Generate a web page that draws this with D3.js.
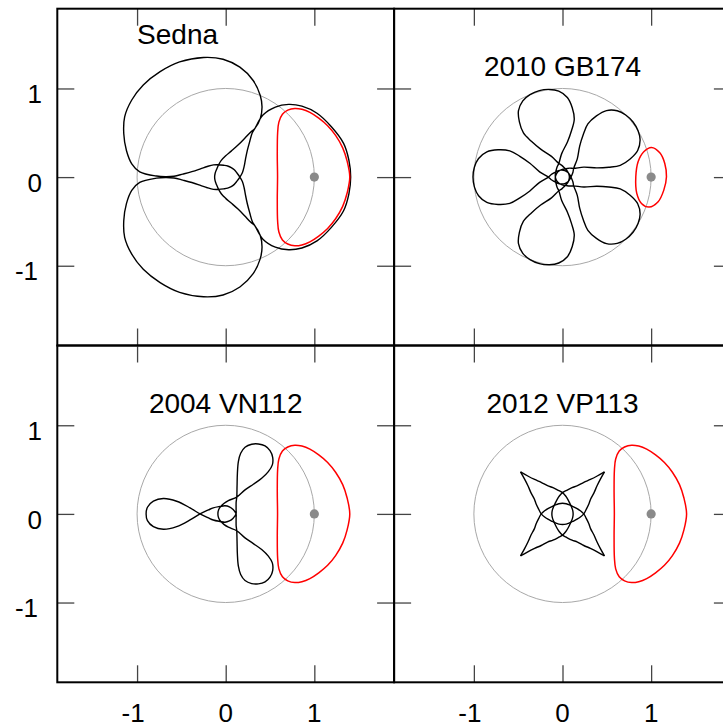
<!DOCTYPE html>
<html><head><meta charset="utf-8">
<script src="https://cdn.jsdelivr.net/npm/d3@7"></script>
<style>html,body{margin:0;padding:0;background:#fff;} svg{display:block;}</style>
</head><body>
<svg id="chart" width="723" height="728"></svg>
<script>
// ---------------- DATA ----------------
const titles = ["Sedna", "2010 GB174", "2004 VN112", "2012 VP113"];
const tickValues = [-1, 0, 1];
const tickLabels = ["-1", "0", "1"];
const planet = [1, 0];

// Sedna (x, y)
const sednaRightLobe = [[0.33,0.55],[0.42,0.70],[0.56,0.79],[0.71,0.82],[0.86,0.80],[1.03,0.72],[1.19,0.57],[1.33,0.38],[1.39,0.19],[1.41,0.0],[1.39,-0.19],[1.33,-0.38],[1.19,-0.57],[1.03,-0.72],[0.86,-0.80],[0.71,-0.82],[0.56,-0.79],[0.42,-0.70]];
const sednaArc1 = [[0.33,-0.55],[0.300,-0.500],[0.271,-0.402],[0.244,-0.301],[0.223,-0.201],[0.208,-0.12],[0.188,-0.050],[0.16,0.0],[0.127,0.046],[0.097,0.082],[0.0625,0.108],[0.022,0.125],[-0.023,0.133],[-0.08,0.139],[-0.138,0.138],[-0.208,0.12],[-0.285,0.093],[-0.382,0.061],[-0.484,0.034],[-0.583,0.010]];
const sednaUpperLobe = [[-0.68,0.005],[-0.78,0.012],[-0.97,0.06],[-1.06,0.15],[-1.12,0.30],[-1.15,0.49],[-1.14,0.68],[-1.06,0.87],[-0.93,1.04],[-0.74,1.19],[-0.52,1.30],[-0.25,1.35],[-0.03,1.33],[0.16,1.24],[0.31,1.09],[0.39,0.92],[0.41,0.79],[0.39,0.66]];
const sednaArc2 = [[0.33,0.55],[0.283,0.510],[0.213,0.436],[0.139,0.361],[0.062,0.293],[0.0,0.24],[-0.05,0.188],[-0.08,0.139],[-0.103,0.087],[-0.119,0.043],[-0.125,0.0],[-0.119,-0.043],[-0.103,-0.087],[-0.08,-0.139],[-0.05,-0.188],[0.0,-0.24],[0.062,-0.293],[0.139,-0.361],[0.213,-0.436],[0.283,-0.510]];
const sednaLowerLobe = [[0.33,-0.55],[0.39,-0.66],[0.41,-0.79],[0.39,-0.92],[0.31,-1.09],[0.16,-1.24],[-0.03,-1.33],[-0.25,-1.35],[-0.52,-1.30],[-0.74,-1.19],[-0.93,-1.04],[-1.06,-0.87],[-1.14,-0.68],[-1.15,-0.49],[-1.12,-0.30],[-1.06,-0.15],[-0.97,-0.06],[-0.78,-0.012]];
const sednaArc3 = [[-0.68,-0.005],[-0.583,-0.010],[-0.484,-0.034],[-0.382,-0.061],[-0.285,-0.093],[-0.208,-0.12],[-0.138,-0.138],[-0.08,-0.139],[-0.023,-0.133],[0.022,-0.125],[0.0625,-0.108],[0.097,-0.082],[0.127,-0.046],[0.16,0.0],[0.188,0.050],[0.208,0.12],[0.223,0.201],[0.244,0.301],[0.271,0.402],[0.300,0.500]];

// red D-shaped curve (x, y), shared by Sedna, 2004 VN112, 2012 VP113
const redD = [[0.585,0.0],[0.582,0.25],[0.586,0.50],[0.60,0.62],[0.64,0.71],[0.70,0.755],[0.78,0.775],[0.86,0.765],[0.95,0.73],[1.05,0.665],[1.15,0.58],[1.24,0.47],[1.32,0.33],[1.37,0.18],[1.40,0.0],[1.37,-0.18],[1.32,-0.33],[1.24,-0.47],[1.15,-0.58],[1.05,-0.665],[0.95,-0.73],[0.86,-0.765],[0.78,-0.775],[0.70,-0.755],[0.64,-0.71],[0.60,-0.62],[0.586,-0.50],[0.582,-0.25]];
// red ellipse of 2010 GB174 (x, y)
const gbRed = [[1.004,0.335],[1.098,0.274],[1.154,0.154],[1.173,0.004],[1.143,-0.147],[1.079,-0.278],[0.977,-0.338],[0.891,-0.297],[0.838,-0.184],[0.827,0.004],[0.853,0.173],[0.917,0.286]];

// 2010 GB174 (angle in degrees, radius)
const gbPetal38 = [[38,0.16],[51,0.265],[61,0.40],[64,0.535],[64.5,0.665],[61,0.79],[56.5,0.90],[50.5,0.97],[44.5,1.0],[38,1.01],[31.5,1.0],[25.5,0.97],[19.5,0.90],[15,0.79],[11.5,0.665],[12,0.535],[15,0.40],[25,0.265]];
const gbArc38 = [[38,0.16],[51,0.13],[66,0.105],[86,0.09],[116,0.08],[146.5,0.078],[177,0.08],[207,0.09],[227,0.105],[242,0.13]];
const gbPetal255 = [[255,0.16],[268,0.265],[278,0.40],[281,0.535],[281.5,0.665],[278,0.79],[273.5,0.90],[267.5,0.97],[261.5,1.0],[255,1.01],[248.5,1.0],[242.5,0.97],[236.5,0.90],[232,0.79],[228.5,0.665],[229,0.535],[232,0.40],[242,0.265]];
const gbArc255 = [[255,0.16],[268,0.13],[283,0.105],[303,0.09],[330,0.08],[360,0.078],[390,0.08],[417,0.09],[437,0.105],[452,0.13]];
const gbPetal465 = [[465,0.16],[478,0.265],[488,0.40],[491,0.535],[491.5,0.665],[488,0.79],[483.5,0.90],[477.5,0.97],[471.5,1.0],[465,1.01],[458.5,1.0],[452.5,0.97],[446.5,0.90],[442,0.79],[438.5,0.665],[439,0.535],[442,0.40],[452,0.265]];
const gbArc465 = [[465,0.16],[478,0.13],[493,0.105],[513,0.09],[543,0.08],[573.5,0.078],[604,0.08],[634,0.09],[654,0.105],[669,0.13]];
const gbPetal682 = [[682,0.16],[695,0.265],[705,0.40],[708,0.535],[708.5,0.665],[705,0.79],[700.5,0.90],[694.5,0.97],[688.5,1.0],[682,1.01],[675.5,1.0],[669.5,0.97],[663.5,0.90],[659,0.79],[655.5,0.665],[656,0.535],[659,0.40],[669,0.265]];
const gbArc682 = [[682,0.16],[695,0.13],[710,0.105],[730,0.09],[760,0.08],[791,0.078],[822,0.08],[852,0.09],[872,0.105],[887,0.13]];
const gbPetal900 = [[900,0.16],[913,0.265],[923,0.40],[926,0.535],[926.5,0.665],[923,0.79],[918.5,0.90],[912.5,0.97],[906.5,1.0],[900,1.01],[893.5,1.0],[887.5,0.97],[881.5,0.90],[877,0.79],[873.5,0.665],[874,0.535],[877,0.40],[887,0.265]];
const gbArc900 = [[900,0.16],[913,0.13],[928,0.105],[948,0.09],[978,0.08],[1009,0.078],[1040,0.08],[1070,0.09],[1090,0.105],[1105,0.13]];

// 2004 VN112: petals (x, y), inner arcs (angle in degrees, radius)
const vnPetalUR = [[0.125,0.19],[0.128,0.308],[0.132,0.459],[0.143,0.59],[0.169,0.684],[0.218,0.752],[0.293,0.786],[0.368,0.789],[0.444,0.767],[0.50,0.714],[0.53,0.639],[0.526,0.553],[0.481,0.477],[0.406,0.402],[0.312,0.335],[0.218,0.271]];
const vnArcURtoLR = [[56.7,0.227],[78.7,0.153],[100,0.12],[125,0.10],[150,0.092],[180,0.088],[210,0.092],[235,0.10],[260,0.12],[281.3,0.153]];
const vnPetalLR = [[0.125,-0.19],[0.218,-0.271],[0.312,-0.335],[0.406,-0.402],[0.481,-0.477],[0.526,-0.553],[0.53,-0.639],[0.50,-0.714],[0.444,-0.767],[0.368,-0.789],[0.293,-0.786],[0.218,-0.752],[0.169,-0.684],[0.143,-0.59],[0.132,-0.459],[0.128,-0.308]];
const vnArcLRtoL = [[303.3,0.227],[311,0.18],[320,0.153],[340,0.125],[360,0.117],[390,0.097],[422.5,0.09],[455,0.092],[487,0.105],[514,0.156],[527,0.20]];
const vnPetalL = [[-0.29,0.0],[-0.402,-0.068],[-0.553,-0.143],[-0.703,-0.173],[-0.816,-0.143],[-0.883,-0.075],[-0.898,0.0],[-0.883,0.075],[-0.816,0.143],[-0.703,0.173],[-0.553,0.143],[-0.402,0.068]];
const vnArcLtoUR = [[180,0.29],[193,0.20],[206,0.156],[233,0.107],[265,0.095],[297.5,0.09],[330,0.097],[360,0.117],[380,0.125],[400,0.153],[409,0.18]];

// 2012 VP113 (angle in degrees, radius), four cusp-to-cusp arcs
const vpArcA = [[45,0.67],[47.5,0.58],[51,0.50],[56,0.43],[62,0.36],[70,0.315],[80,0.27],[90,0.24],[100,0.205],[110,0.175],[125,0.145],[140,0.13],[160,0.122],[180,0.12],[200,0.122],[220,0.13],[235,0.145],[250,0.175],[260,0.205],[270,0.24],[280,0.27],[290,0.315],[298,0.36],[304,0.43],[309,0.50],[312.5,0.58],[315,0.67]];
const vpArcB = [[315,0.67],[317.5,0.58],[321,0.50],[326,0.43],[332,0.36],[340,0.315],[350,0.27],[360,0.24],[370,0.205],[380,0.175],[395,0.145],[410,0.13],[430,0.122],[450,0.12],[470,0.122],[490,0.13],[505,0.145],[520,0.175],[530,0.205],[540,0.24],[550,0.27],[560,0.315],[568,0.36],[574,0.43],[579,0.50],[582.5,0.58],[585,0.67]];
const vpArcC = [[225,0.67],[227.5,0.58],[231,0.50],[236,0.43],[242,0.36],[250,0.315],[260,0.27],[270,0.24],[280,0.205],[290,0.175],[305,0.145],[320,0.13],[340,0.122],[360,0.12],[380,0.122],[400,0.13],[415,0.145],[430,0.175],[440,0.205],[450,0.24],[460,0.27],[470,0.315],[478,0.36],[484,0.43],[489,0.50],[492.5,0.58],[495,0.67]];
const vpArcD = [[135,0.67],[137.5,0.58],[141,0.50],[146,0.43],[152,0.36],[160,0.315],[170,0.27],[180,0.24],[190,0.205],[200,0.175],[215,0.145],[230,0.13],[250,0.122],[270,0.12],[290,0.122],[310,0.13],[325,0.145],[340,0.175],[350,0.205],[360,0.24],[370,0.27],[380,0.315],[388,0.36],[394,0.43],[399,0.50],[402.5,0.58],[405,0.67]];

// ---------------- DRAWING ----------------
const svg = d3.select("#chart");
const LEFT = 57.3, TOP = 8.7, SIZE = 336.8, DOM = [-1.9, 1.9], TICK = 17;
const FONT = "'Liberation Sans', Arial, Helvetica, sans-serif";
const toXY = p => { const a = p[0] * Math.PI / 180; return [p[1] * Math.cos(a), p[1] * Math.sin(a)]; };
const pol = arr => arr.map(toXY);

const panels = [
  {col:0, row:0, title:titles[0], tx:-1.0, ty:1.5, anchor:"start",
   black:[{pts:[...sednaRightLobe, ...sednaArc1, ...sednaUpperLobe, ...sednaArc2, ...sednaLowerLobe, ...sednaArc3], closed:true}],
   red:redD},
  {col:1, row:0, title:titles[1], tx:0, ty:1.14, anchor:"middle",
   black:[{pts:[...pol(gbPetal38), ...pol(gbArc38), ...pol(gbPetal255), ...pol(gbArc255), ...pol(gbPetal465), ...pol(gbArc465), ...pol(gbPetal682), ...pol(gbArc682), ...pol(gbPetal900), ...pol(gbArc900)], closed:true}],
   red:gbRed},
  {col:0, row:1, title:titles[2], tx:0, ty:1.14, anchor:"middle",
   black:[{pts:[...vnPetalUR, ...pol(vnArcURtoLR), ...vnPetalLR, ...pol(vnArcLRtoL), ...vnPetalL, ...pol(vnArcLtoUR)], closed:true}],
   red:redD},
  {col:1, row:1, title:titles[3], tx:0, ty:1.14, anchor:"middle",
   black:[vpArcA, vpArcB, vpArcC, vpArcD].map(a => ({pts:pol(a), closed:false})),
   red:redD}
];

panels.forEach(p => {
  const x = d3.scaleLinear().domain(DOM).range([LEFT + p.col * SIZE, LEFT + (p.col + 1) * SIZE]);
  const y = d3.scaleLinear().domain(DOM).range([TOP + (p.row + 1) * SIZE, TOP + p.row * SIZE]);
  const g = svg.append("g");

  // reference circle (orbit) and planet
  g.append("circle")
    .attr("cx", x(0)).attr("cy", y(0)).attr("r", x(1) - x(0))
    .attr("fill", "none").attr("stroke", "#a8a8a8").attr("stroke-width", 1);

  const lineClosed = d3.line().x(d => x(d[0])).y(d => y(d[1])).curve(d3.curveCatmullRomClosed.alpha(0.5));
  const lineOpen = d3.line().x(d => x(d[0])).y(d => y(d[1])).curve(d3.curveCatmullRom.alpha(0.5));

  p.black.forEach(b => {
    g.append("path").attr("d", (b.closed ? lineClosed : lineOpen)(b.pts))
      .attr("fill", "none").attr("stroke", "#000").attr("stroke-width", 1.4)
      .attr("stroke-linejoin", "round");
  });
  g.append("path").attr("d", lineClosed(p.red))
    .attr("fill", "none").attr("stroke", "#ff0000").attr("stroke-width", 1.5);

  g.append("circle").attr("cx", x(planet[0])).attr("cy", y(planet[1])).attr("r", 4.6).attr("fill", "#8a8a8a");

  // inward ticks on all four sides
  const styleAxis = sel => {
    sel.select(".domain").remove();
    sel.selectAll(".tick line").attr("stroke", "#444").attr("stroke-width", 1.3);
    sel.selectAll(".tick text").remove();
  };
  g.append("g").attr("transform", `translate(0,${y(DOM[0])})`)
    .call(d3.axisBottom(x).tickValues(tickValues).tickSizeInner(-TICK).tickSizeOuter(0)).call(styleAxis);
  g.append("g").attr("transform", `translate(0,${y(DOM[1])})`)
    .call(d3.axisTop(x).tickValues(tickValues).tickSizeInner(-TICK).tickSizeOuter(0)).call(styleAxis);
  g.append("g").attr("transform", `translate(${x(DOM[0])},0)`)
    .call(d3.axisLeft(y).tickValues(tickValues).tickSizeInner(-TICK).tickSizeOuter(0)).call(styleAxis);
  g.append("g").attr("transform", `translate(${x(DOM[1])},0)`)
    .call(d3.axisRight(y).tickValues(tickValues).tickSizeInner(-TICK).tickSizeOuter(0)).call(styleAxis);

  // panel frame
  g.append("rect").attr("x", x(DOM[0])).attr("y", y(DOM[1]))
    .attr("width", x(DOM[1]) - x(DOM[0])).attr("height", y(DOM[0]) - y(DOM[1]))
    .attr("fill", "none").attr("stroke", "#000").attr("stroke-width", 2);

  // title
  g.append("text").attr("x", x(p.tx)).attr("y", y(p.ty))
    .attr("text-anchor", p.anchor).attr("font-family", FONT).attr("font-size", 28)
    .attr("fill", "#000").text(p.title);

  // tick labels (left column / bottom row only)
  if (p.col === 0) {
    tickValues.forEach((v, i) => {
      g.append("text").attr("x", x(DOM[0]) - 15.3).attr("y", y(v) + 14.7)
        .attr("dx", tickLabels[i].startsWith("-") ? -4 : 0)
        .attr("text-anchor", "end").attr("font-family", FONT).attr("font-size", 26)
        .attr("fill", "#000").text(tickLabels[i]);
    });
  }
  if (p.row === 1) {
    tickValues.forEach((v, i) => {
      g.append("text").attr("x", x(v)).attr("y", y(DOM[0]) + 40)
        .attr("dx", tickLabels[i].startsWith("-") ? -4 : 0)
        .attr("text-anchor", "middle").attr("font-family", FONT).attr("font-size", 26)
        .attr("fill", "#000").text(tickLabels[i]);
    });
  }
});
</script>
</body></html>
